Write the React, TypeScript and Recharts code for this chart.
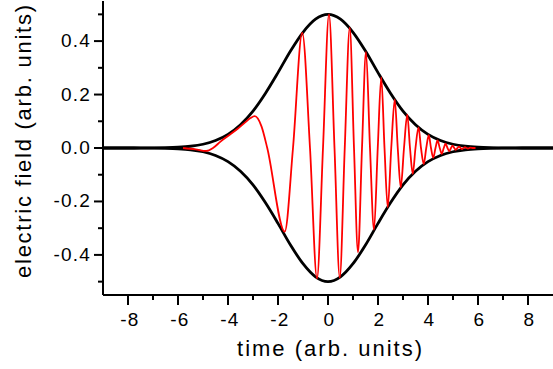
import React from 'react';
import { LineChart, Line, XAxis, YAxis } from 'recharts';

// Envelope
const envTimes = [-9, -8, -7.5, -7, -6.5, -6, -5.5, -5, -4.5, -4, -3.5, -3, -2.5, -2, -1.5, -1, -0.5, 0, 0.5, 1, 1.5, 2, 2.5, 3, 3.5, 4, 4.5, 5, 5.5, 6, 6.5, 7, 7.5, 8, 9];
const envUpper = [0, 0, 0.0002, 0.0005, 0.0012, 0.0029, 0.0066, 0.014, 0.028, 0.051, 0.087, 0.138, 0.205, 0.282, 0.363, 0.433, 0.482, 0.5, 0.482, 0.433, 0.363, 0.282, 0.205, 0.138, 0.087, 0.051, 0.028, 0.014, 0.0066, 0.0029, 0.0012, 0.0005, 0.0002, 0, 0];
const envLower = [0, 0, -0.0002, -0.0005, -0.0012, -0.0029, -0.0066, -0.014, -0.028, -0.051, -0.087, -0.138, -0.205, -0.282, -0.363, -0.433, -0.482, -0.5, -0.482, -0.433, -0.363, -0.282, -0.205, -0.138, -0.087, -0.051, -0.028, -0.014, -0.0066, -0.0029, -0.0012, -0.0005, -0.0002, 0, 0];

// Chirped field (extrema and zero crossings)
const redTimes = [-5.8, -5.3, -4.87, -4.6, -4.3, -4.0, -3.6, -3.3, -3.1, -2.93, -2.66, -2.43, -1.73, -1.4, -1.03, -0.72, -0.44, -0.2, 0.04, 0.26, 0.47, 0.67, 0.87, 1.04, 1.2, 1.36, 1.52, 1.68, 1.84, 1.99, 2.13, 2.26, 2.39, 2.53, 2.67, 2.79, 2.91, 3.04, 3.17, 3.28, 3.39, 3.5, 3.62, 3.72, 3.83, 3.93, 4.03, 4.12, 4.21, 4.3, 4.38, 4.47, 4.55, 4.63, 4.7, 4.78, 4.85, 4.92, 4.98, 5.05, 5.11, 5.18, 5.24, 5.3, 5.36, 5.42, 5.48, 5.54, 5.6, 5.65, 5.7, 5.8, 5.9];
const redValues = [0, -0.005, -0.011, 0, 0.024, 0.045, 0.073, 0.097, 0.112, 0.119, 0.081, 0, -0.313, 0, 0.431, 0, -0.488, 0, 0.5, 0, -0.485, 0, 0.45, 0, -0.39, 0, 0.36, 0, -0.305, 0, 0.265, 0, -0.222, 0, 0.182, 0, -0.148, 0, 0.125, 0, -0.097, 0, 0.077, 0, -0.06, 0, 0.048, 0, -0.036, 0, 0.028, 0, -0.022, 0, 0.016, 0, -0.012, 0, 0.009, 0, -0.007, 0, 0.005, 0, -0.004, 0, 0.003, 0, -0.002, 0, 0.0015, 0, 0];

const xTicks = [-9, -8, -7, -6, -5, -4, -3, -2, -1, 0, 1, 2, 3, 4, 5, 6, 7, 8, 9];
const yTicks = [-0.5, -0.4, -0.3, -0.2, -0.1, 0, 0.1, 0.2, 0.3, 0.4, 0.5];

const upperData = envTimes.map((t, i) => ({ t, v: envUpper[i] }));
const lowerData = envTimes.map((t, i) => ({ t, v: envLower[i] }));
const redData = redTimes.map((t, i) => ({ t, v: redValues[i] }));

const FONT = '"Liberation Sans", Arial, sans-serif';

const XTick = (props: any) => {
  const { x, y, payload } = props;
  const v = payload.value;
  const major = Math.round(v) % 2 === 0;
  if (Math.abs(v) === 9) return <g />;
  return (
    <g>
      <line x1={x} x2={x} y1={y} y2={y + (major ? 10 : 5)} stroke="#000" strokeWidth={2} />
      {major && (
        <text x={x + (v < 0 ? 2 : 1.5)} y={y + 31} textAnchor="middle" fontFamily={FONT} fontSize={19} style={{ letterSpacing: '1.2px' }} fill="#000">
          {String(v)}
        </text>
      )}
    </g>
  );
};

const YTick = (props: any) => {
  const { x, y, payload } = props;
  const v = payload.value;
  const major = Math.round(v * 10) % 2 === 0;
  return (
    <g>
      <line x1={x - (major ? 9 : 5)} x2={x} y1={y} y2={y} stroke="#000" strokeWidth={2} />
      {major && (
        <text x={x - 12} y={y + 6} textAnchor="end" fontFamily={FONT} fontSize={19} style={{ letterSpacing: '1.2px' }} fill="#000">
          {v.toFixed(1)}
        </text>
      )}
    </g>
  );
};

export default function App() {
  return (
    <div style={{ position: 'fixed', left: 0, top: 0, width: 553, height: 369, background: '#fff' }}>
      <LineChart width={553} height={369} margin={{ top: 1, right: 0, bottom: 0, left: 0 }}>
        <XAxis
          xAxisId="main"
          dataKey="t"
          type="number"
          domain={[-9, 9]}
          ticks={xTicks}
          interval={0}
          height={74}
          tickSize={0}
          tickMargin={0}
          tickLine={false}
          tick={XTick}
          axisLine={{ stroke: '#000', strokeWidth: 2 }}
          label={{
            content: (p: any) => {
              const vb = p.viewBox;
              return (
                <text x={vb.x + vb.width / 2 + 1.5} y={vb.y + 61} textAnchor="middle" textLength={185} lengthAdjust="spacing" fontFamily={FONT} fontSize={22} fill="#000">
                  time (arb. units)
                </text>
              );
            },
          }}
        />
        <XAxis
          xAxisId="top"
          dataKey="t"
          type="number"
          orientation="top"
          domain={[-9, 9]}
          height={0}
          tick={false}
          tickLine={false}
          axisLine={{ stroke: '#000', strokeWidth: 2 }}
        />
        <YAxis
          yAxisId="main"
          type="number"
          domain={[-0.55, 0.55]}
          ticks={yTicks}
          interval={0}
          width={103}
          tickSize={0}
          tickMargin={0}
          tickLine={false}
          tick={YTick}
          axisLine={{ stroke: '#000', strokeWidth: 2 }}
          label={{
            content: (p: any) => {
              const vb = p.viewBox;
              const cx = 31;
              const cy = vb.y + vb.height / 2 - 6.5;
              return (
                <text x={cx} y={cy} transform={`rotate(-90, ${cx}, ${cy})`} textAnchor="middle" textLength={273} lengthAdjust="spacing" fontFamily={FONT} fontSize={22} fill="#000">
                  electric field (arb. units)
                </text>
              );
            },
          }}
        />
        <Line xAxisId="main" yAxisId="main" data={lowerData} dataKey="v" type="monotone" stroke="#000" strokeWidth={2.8} dot={false} activeDot={false} isAnimationActive={false} />
        <Line xAxisId="main" yAxisId="main" data={upperData} dataKey="v" type="monotone" stroke="#000" strokeWidth={2.8} dot={false} activeDot={false} isAnimationActive={false} />
        <Line xAxisId="main" yAxisId="main" data={redData} dataKey="v" type="monotone" stroke="#ff0000" strokeWidth={1.8} dot={false} activeDot={false} isAnimationActive={false} />
      </LineChart>
    </div>
  );
}
